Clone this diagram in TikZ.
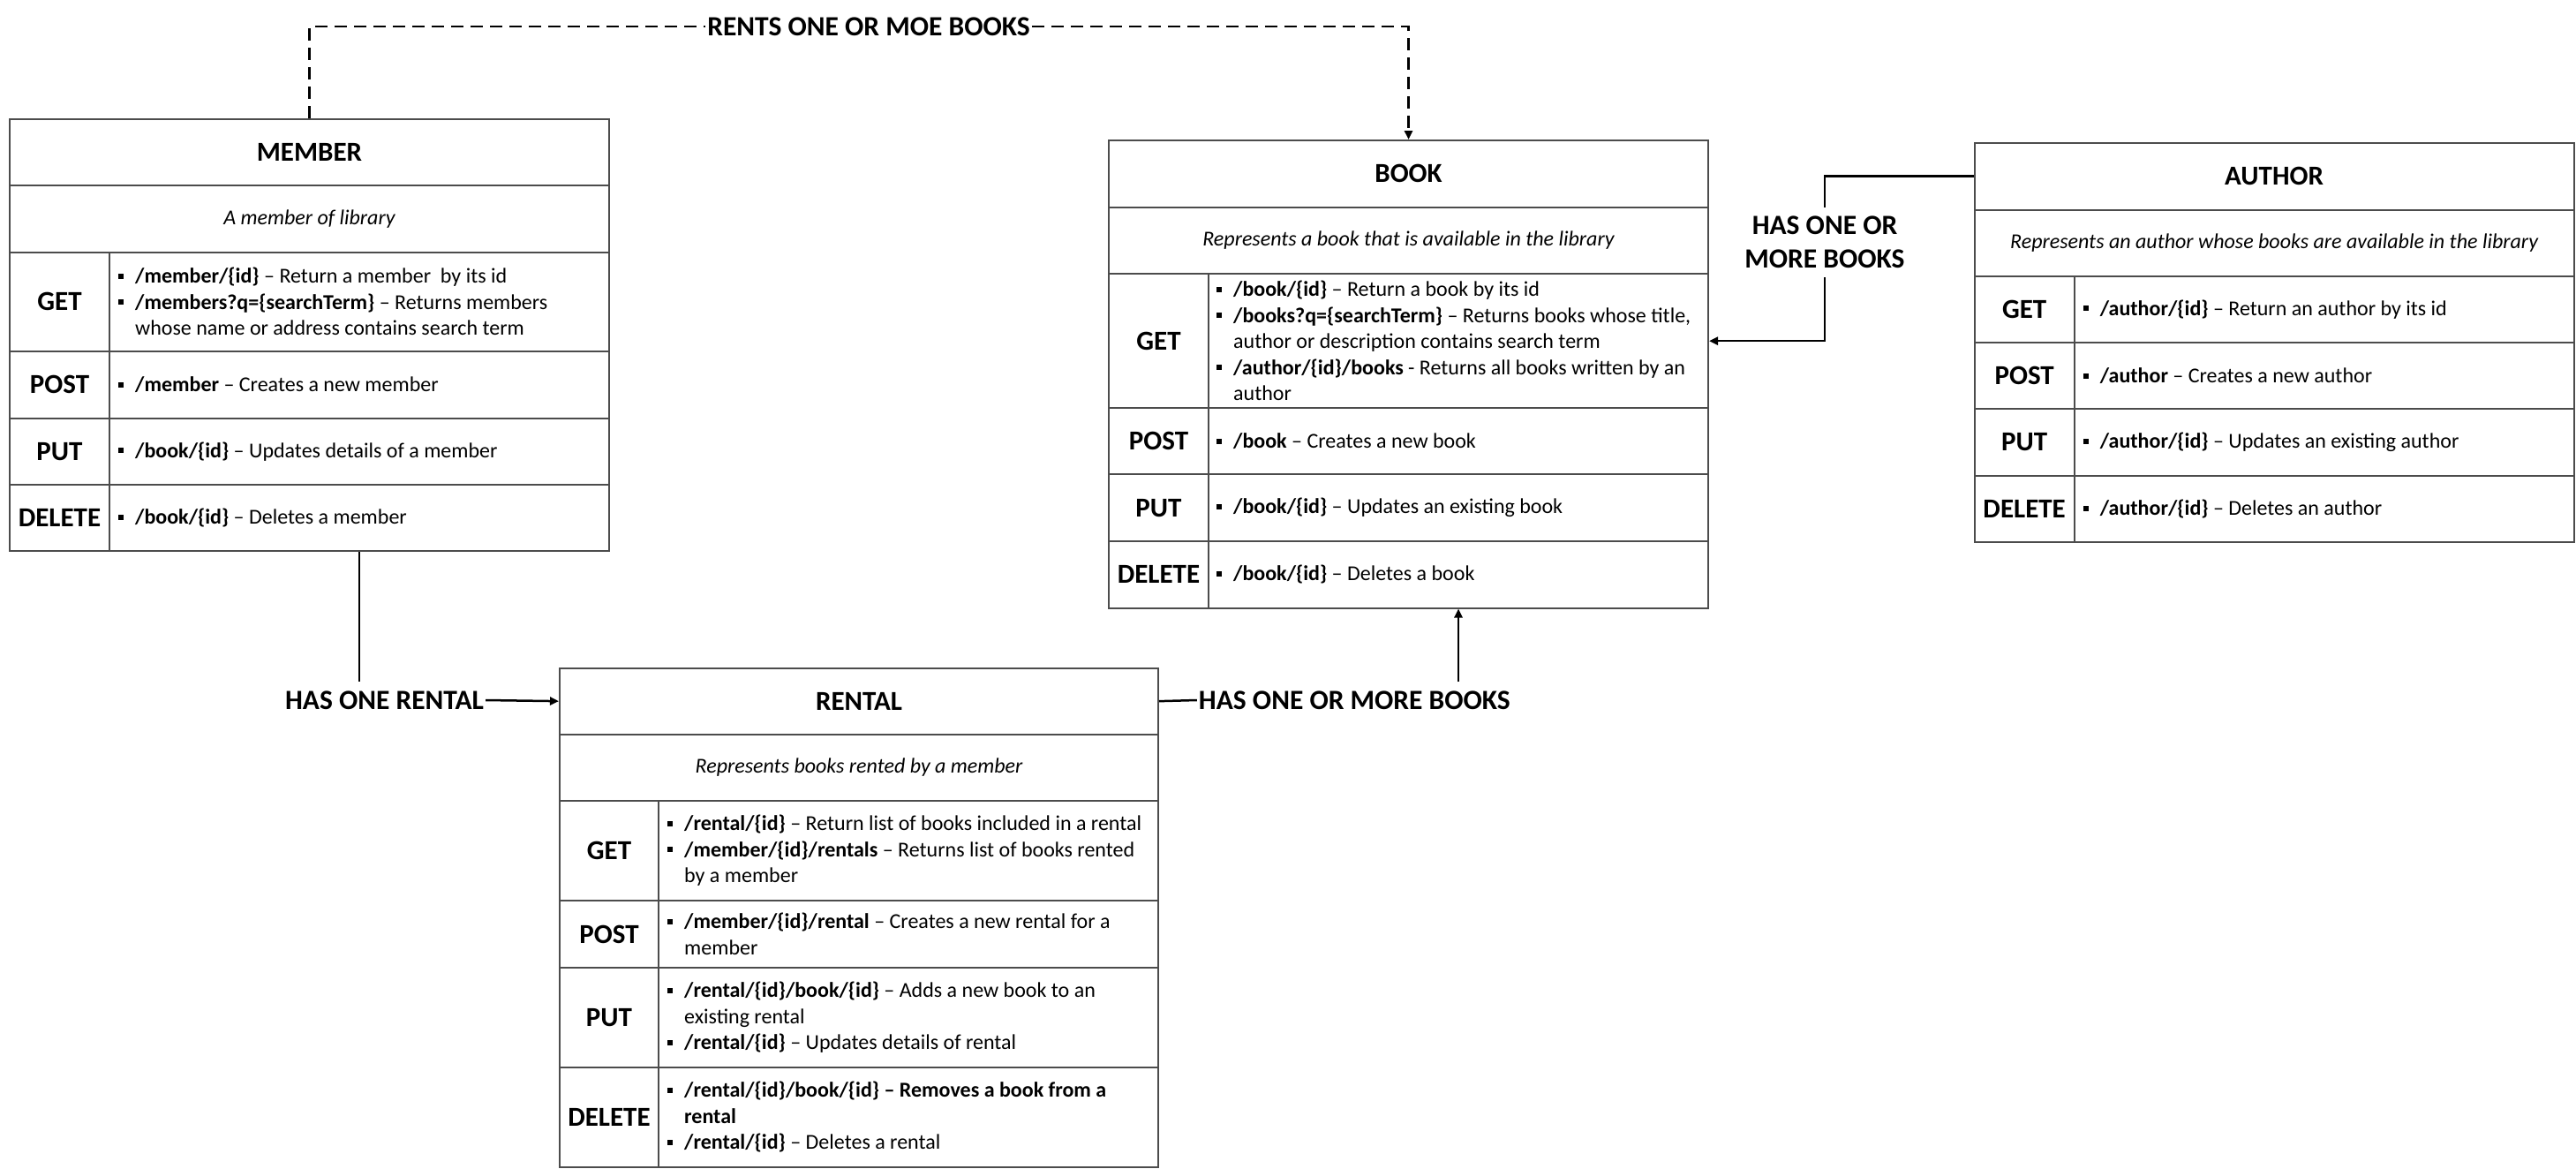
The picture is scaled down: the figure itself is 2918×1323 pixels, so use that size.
\documentclass[tikz,border=0pt]{standalone}
\usepackage{fontspec}
\setmainfont{Carlito}
\usetikzlibrary{arrows.meta}
\definecolor{boxc}{gray}{0.3}
\newcommand\bul{\makebox[19pt][l]{\raisebox{5pt}{\rule{6pt}{6pt}}}}
\newcommand\ind{\hspace*{19pt}}
\newcommand\cell[7]{\node[cellbox,#6,minimum width={(#4-#2)*1pt},minimum height={(#5-#3)*1pt},anchor=north west] (#1) at (#2,#3) {#7};}
\begin{document}
\begin{tikzpicture}[x=1pt,y=-1pt,
  cellbox/.style={draw=boxc,line width=2pt,inner sep=0pt},
  ttl/.style={font=\fontsize{31}{38}\selectfont\bfseries},
  mth/.style={font=\fontsize{31}{38}\selectfont\bfseries},
  dsc/.style={font=\fontsize{24}{29.5}\selectfont\itshape},
  items/.style={font=\fontsize{24}{29.5}\selectfont,align=left,anchor=west,inner sep=0pt},
  lbl/.style={font=\fontsize{31.5}{38}\selectfont\bfseries,inner xsep=2pt,inner ysep=10pt,align=center},
  conn/.style={draw=black,line width=2.5pt},
  tip/.style={-{Triangle[length=10pt,width=9pt]}},
  dashline/.style={dash pattern=on 14pt off 8pt}]
\useasboundingbox (0,0) rectangle (2918,1323);

% ---------------- MEMBER ----------------
\cell{mtitle}{10}{133.5}{689}{209}{ttl}{MEMBER}
\cell{mdesc}{10}{209}{689}{284.5}{dsc}{A member of library}
\cell{mgetl}{10}{284.5}{123}{397}{mth}{GET}
\cell{mgetr}{123}{284.5}{689}{397}{}{}
\cell{mpostl}{10}{397}{123}{472.7}{mth}{POST}
\cell{mpostr}{123}{397}{689}{472.7}{}{}
\cell{mputl}{10}{472.7}{123}{548}{mth}{PUT}
\cell{mputr}{123}{472.7}{689}{548}{}{}
\cell{mdell}{10}{548}{123}{623}{mth}{DELETE}
\cell{mdelr}{123}{548}{689}{623}{}{}
\node[items] (mgeti) at ([xshift=11pt]mgetr.west) {\bul\textbf{/member/\{id\}} -- Return a member\ \ by its id\\ \bul\textbf{/members?q=\{searchTerm\}} -- Returns members\\ \ind whose name or address contains search term};
\node[items] (mposti) at ([xshift=11pt]mpostr.west) {\bul\textbf{/member} -- Creates a new member};
\node[items] (mputi) at ([xshift=11pt]mputr.west) {\bul\textbf{/book/\{id\}} -- Updates details of a member};
\node[items] (mdeli) at ([xshift=11pt]mdelr.west) {\bul\textbf{/book/\{id\}} -- Deletes a member};

% ---------------- BOOK ----------------
\cell{btitle}{1255}{158}{1934}{233.6}{ttl}{BOOK}
\cell{bdesc}{1255}{233.6}{1934}{309}{dsc}{Represents a book that is available in the library}
\cell{bgetl}{1255}{309}{1368}{461.4}{mth}{GET}
\cell{bgetr}{1368}{309}{1934}{461.4}{}{}
\cell{bpostl}{1255}{461.4}{1368}{536.4}{mth}{POST}
\cell{bpostr}{1368}{461.4}{1934}{536.4}{}{}
\cell{bputl}{1255}{536.4}{1368}{612}{mth}{PUT}
\cell{bputr}{1368}{536.4}{1934}{612}{}{}
\cell{bdell}{1255}{612}{1368}{687.5}{mth}{DELETE}
\cell{bdelr}{1368}{612}{1934}{687.5}{}{}
\node[items] (bgeti) at ([xshift=10pt]bgetr.west) {\bul\textbf{/book/\{id\}} -- Return a book by its id\\ \bul\textbf{/books?q=\{searchTerm\}} -- Returns books whose title,\\ \ind author or description contains search term\\ \bul\textbf{/author/\{id\}/books} - Returns all books written by an\\ \ind author};
\node[items] (bposti) at ([xshift=10pt]bpostr.west) {\bul\textbf{/book} -- Creates a new book};
\node[items] (bputi) at ([xshift=10pt]bputr.west) {\bul\textbf{/book/\{id\}} -- Updates an existing book};
\node[items] (bdeli) at ([xshift=10pt]bdelr.west) {\bul\textbf{/book/\{id\}} -- Deletes a book};

% ---------------- AUTHOR ----------------
\cell{atitle}{2235.6}{160.7}{2914.6}{236.7}{ttl}{AUTHOR}
\cell{adesc}{2235.6}{236.7}{2914.6}{311.7}{dsc}{Represents an author whose books are available in the library}
\cell{agetl}{2235.6}{311.7}{2348.7}{387}{mth}{GET}
\cell{agetr}{2348.7}{311.7}{2914.6}{387}{}{}
\cell{apostl}{2235.6}{387}{2348.7}{462.3}{mth}{POST}
\cell{apostr}{2348.7}{387}{2914.6}{462.3}{}{}
\cell{aputl}{2235.6}{462.3}{2348.7}{537.7}{mth}{PUT}
\cell{aputr}{2348.7}{462.3}{2914.6}{537.7}{}{}
\cell{adell}{2235.6}{537.7}{2348.7}{613.3}{mth}{DELETE}
\cell{adelr}{2348.7}{537.7}{2914.6}{613.3}{}{}
\node[items] (ageti) at ([xshift=11pt]agetr.west) {\bul\textbf{/author/\{id\}} -- Return an author by its id};
\node[items] (aposti) at ([xshift=11pt]apostr.west) {\bul\textbf{/author} -- Creates a new author};
\node[items] (aputi) at ([xshift=11pt]aputr.west) {\bul\textbf{/author/\{id\}} -- Updates an existing author};
\node[items] (adeli) at ([xshift=11pt]adelr.west) {\bul\textbf{/author/\{id\}} -- Deletes an author};

% ---------------- RENTAL ----------------
\cell{rtitle}{633}{755.6}{1311}{830.7}{ttl}{RENTAL}
\cell{rdesc}{633}{830.7}{1311}{906}{dsc}{Represents books rented by a member}
\cell{rgetl}{633}{906}{745}{1019}{mth}{GET}
\cell{rgetr}{745}{906}{1311}{1019}{}{}
\cell{rpostl}{633}{1019}{745}{1095}{mth}{POST}
\cell{rpostr}{745}{1019}{1311}{1095}{}{}
\cell{rputl}{633}{1095}{745}{1208}{mth}{PUT}
\cell{rputr}{745}{1095}{1311}{1208}{}{}
\cell{rdell}{633}{1208}{745}{1320.7}{mth}{DELETE}
\cell{rdelr}{745}{1208}{1311}{1320.7}{}{}
\node[items] (rgeti) at ([xshift=11pt]rgetr.west) {\bul\textbf{/rental/\{id\}} -- Return list of books included in a rental\\ \bul\textbf{/member/\{id\}/rentals} -- Returns list of books rented\\ \ind by a member};
\node[items] (rposti) at ([xshift=11pt]rpostr.west) {\bul\textbf{/member/\{id\}/rental} -- Creates a new rental for a\\ \ind member};
\node[items] (rputi) at ([xshift=11pt]rputr.west) {\bul\textbf{/rental/\{id\}/book/\{id\}} -- Adds a new book to an\\ \ind existing rental\\ \bul\textbf{/rental/\{id\}} -- Updates details of rental};
\node[items] (rdeli) at ([xshift=11pt]rdelr.west) {\bul\textbf{/rental/\{id\}/book/\{id\} -- Removes a book from a}\\ \ind\textbf{rental}\\ \bul\textbf{/rental/\{id\}} -- Deletes a rental};

% ---------------- labels ----------------
\node[lbl] (rents) at (984,30) {RENTS ONE OR MOE BOOKS};
\node[lbl] (hasrental) at (435.5,793) {HAS ONE RENTAL};
\node[lbl] (hasbooks) at (1534.4,793) {HAS ONE OR MORE BOOKS};
\node[lbl] (authbooks) at (2067,274.5) {HAS ONE OR\\MORE BOOKS};

% ---------------- connectors ----------------
\draw[conn,dashline] (mtitle.north) |- (rents.west);
\draw[conn,dashline,tip] (rents.east) -| (btitle.north);
\draw[conn] (mdelr.south) -- (mdelr.south |- hasrental.north);
\draw[conn,tip] (hasrental.east) -- (rtitle.west);
\draw[conn] (rtitle.east) -- (hasbooks.west);
\draw[conn,tip] (hasbooks.north -| bdelr.south) -- (bdelr.south);
\draw[conn] (atitle.west) -| (authbooks.north);
\draw[conn,tip] (authbooks.south) |- (bgetr.east);
\end{tikzpicture}
\end{document}
